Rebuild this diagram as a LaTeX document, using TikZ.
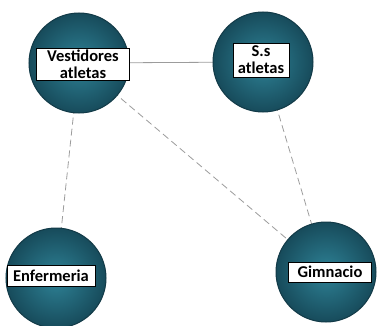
\documentclass[tikz,border=0pt]{standalone}
\usepackage{fontspec}
\setmainfont{Carlito}
\definecolor{tealin}{HTML}{2E8296}
\definecolor{tealout}{HTML}{174B5B}
\definecolor{tealedge}{HTML}{123A47}
\definecolor{linkgray}{HTML}{9C9C9C}
\begin{document}
\begin{tikzpicture}[x=1pt,y=-1pt,
  room/.style={circle,minimum size=100pt,inner sep=0pt,draw=tealedge,line width=1pt,
    shading=radial,inner color=tealin,outer color=tealout},
  tag/.style={draw=black,line width=0.7pt,fill=white,font=\bfseries\fontsize{16.5}{17}\selectfont,
    align=center,inner xsep=3pt,inner ysep=1.5pt},
  link/.style={draw=linkgray,line width=0.8pt},
  dlink/.style={link,dash pattern=on 7pt off 4pt}]
\useasboundingbox (0,0) rectangle (377,326);
\coordinate (cv) at (79,63);
\coordinate (cs) at (263,62);
\coordinate (ce) at (56,278);
\coordinate (cg) at (326,272);
\draw[link] (cv) -- (cs);
\draw[dlink] (cv) -- (ce);
\draw[dlink] (cv) -- (cg);
\draw[dlink] (cs) -- (cg);
\node[room] (v) at (cv) {};
\node[room] (s) at (cs) {};
\node[room] (e) at (ce) {};
\node[room] (g) at (cg) {};
\node[tag,minimum width=93pt,minimum height=32pt] (vl) at (83,64) {Vestidores\\atletas};
\node[tag,minimum width=56pt,minimum height=34pt] (sl) at (261,60) {S.s\\atletas};
\node[tag,minimum width=88pt,minimum height=21pt] (el) at (51,276) {Enfermeria};
\node[tag,minimum width=83pt,minimum height=20pt] (gl) at (330,272) {Gimnacio};
\end{tikzpicture}
\end{document}
